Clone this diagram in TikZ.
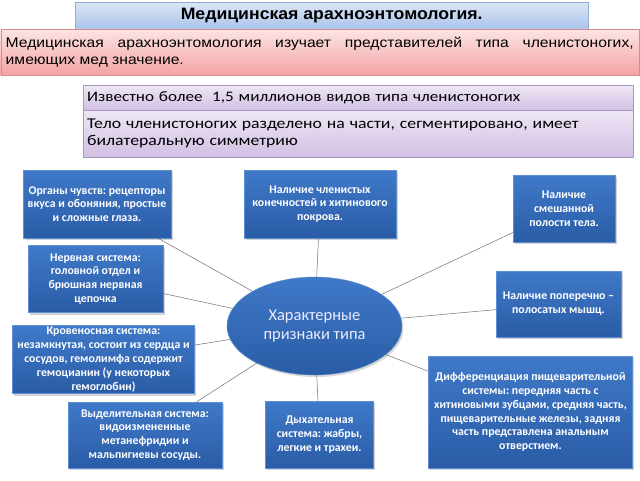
\documentclass[tikz,border=0pt]{standalone}
\usepackage{fontspec}
\setmainfont{Carlito}
\newfontfamily\arialt[FakeStretch=1.07]{Liberation Sans}
\newfontfamily\arialr[FakeStretch=1.12]{Liberation Sans}
\newfontfamily\calp[FakeStretch=1.18]{Carlito}
\usetikzlibrary{shadows,shapes.geometric}
\definecolor{btop}{HTML}{3F79C8}
\definecolor{bbot}{HTML}{2A5CA6}
\definecolor{bline}{HTML}{5D8FD3}
\definecolor{conn}{HTML}{707070}
\definecolor{tline}{HTML}{8EAADB}
\definecolor{ttop}{HTML}{DCE6F6}
\definecolor{tbot}{HTML}{A9C3EA}
\definecolor{rline}{HTML}{D98C8C}
\definecolor{rtop}{HTML}{FCE3E3}
\definecolor{rbot}{HTML}{F3A4A4}
\definecolor{pline}{HTML}{A898BF}
\definecolor{ptop}{HTML}{EEE6F4}
\definecolor{pbot}{HTML}{D2C0E4}
\frenchspacing
\begin{document}
\begin{tikzpicture}[x=1pt,y=-1pt,
  bluebox/.style={draw=bline, line width=0.4pt, top color=btop, bottom color=bbot,
    text=white, font=\fontsize{11.8}{13.8}\selectfont\bfseries, align=center,
    inner sep=1pt, drop shadow={opacity=0.35, shadow xshift=1.5pt, shadow yshift=-2pt}},
  link/.style={draw=conn, line width=0.5pt}]
\useasboundingbox (0,0) rectangle (640,480);
\fill[white] (0,0) rectangle (640,480);

% header boxes
\node[draw=tline, top color=ttop, bottom color=tbot,
  minimum width=513, minimum height=27, anchor=north west, inner sep=0pt,
  font=\arialt\fontsize{16.5}{18}\selectfont\bfseries] (title) at (75,2) {Медицинская арахноэнтомология.};
\node[draw=rline, top color=rtop, bottom color=rbot,
  minimum width=638, minimum height=46, anchor=north west, inner sep=4pt, text width=628,
  align=justify, font=\arialr\fontsize{14}{17}\selectfont] (intro) at (0.5,29)
  {Медицинская арахноэнтомология изучает представителей типа членистоногих,\linebreak имеющих мед значение.};
\node[draw=pline, top color=ptop, bottom color=pbot,
  minimum width=550, minimum height=25, anchor=north west, inner sep=4pt, text width=542,
  align=left, font=\calp\fontsize{14.5}{17}\selectfont] (p1) at (83,85)
  {Известно более\ \ 1,5 миллионов видов типа членистоногих};
\node[draw=pline, top color=ptop, bottom color=pbot,
  minimum width=550, minimum height=47, anchor=north west, inner sep=4pt, text width=542,
  align=left, font=\calp\fontsize{15}{17}\selectfont] (p2) at (83,110)
  {Тело членистоногих разделено на части, сегментировано, имеет\\билатеральную симметрию};

% central ellipse
\node[ellipse, draw=bline, top color=btop, bottom color=bbot, minimum width=175, minimum height=98,
  inner sep=0pt, text=white!92!blue, align=center, font=\fontsize{16.5}{19}\selectfont,
  drop shadow={opacity=0.3, shadow xshift=1.5pt, shadow yshift=-2pt}] (c) at (314.5,326)
  {Характерные\\признаки типа};

% boxes
\node[bluebox, minimum width=148, minimum height=68] (org) at (97,204)
  {Органы чувств: рецепторы\\вкуса и обоняния, простые\\и сложные глаза.};
\node[bluebox, minimum width=152, minimum height=68] (kon) at (320,204)
  {Наличие членистых\\конечностей и хитинового\\покрова.};
\node[bluebox, minimum width=102, minimum height=67] (pol) at (564,208.5)
  {Наличие\\смешанной\\полости тела.};
\node[bluebox, minimum width=135, minimum height=67] (nerv) at (95.5,279)
  {Нервная система:\\головной отдел и\\брюшная нервная\\цепочка};
\node[bluebox, minimum width=125, minimum height=66] (mysh) at (558.5,304)
  {Наличие поперечно –\\полосатых мышц.};
\node[bluebox, minimum width=182, minimum height=68] (krov) at (103.5,359.5)
  {Кровеносная система:\\незамкнутая, состоит из сердца и\\сосудов, гемолимфа содержит\\гемоцианин (у некоторых\\гемоглобин)};
\node[bluebox, minimum width=204, minimum height=112] (diff) at (530.5,412)
  {Дифференциация пищеварительной\\системы: передняя часть с\\хитиновыми зубцами, средняя часть,\\пищеварительные железы, задняя\\часть представлена анальным\\отверстием.};
\node[bluebox, minimum width=154, minimum height=66] (vyd) at (145,435)
  {Выделительная система:\\видоизмененные\\метанефридии и\\мальпигиевы сосуды.};
\node[bluebox, minimum width=108, minimum height=67] (dyh) at (319.5,434.5)
  {Дыхательная\\система: жабры,\\легкие и трахеи.};

% connectors
\foreach \b in {org,kon,pol,nerv,mysh,krov,diff,vyd,dyh}{
  \draw[link] (c) -- (\b);
}
\end{tikzpicture}
\end{document}
